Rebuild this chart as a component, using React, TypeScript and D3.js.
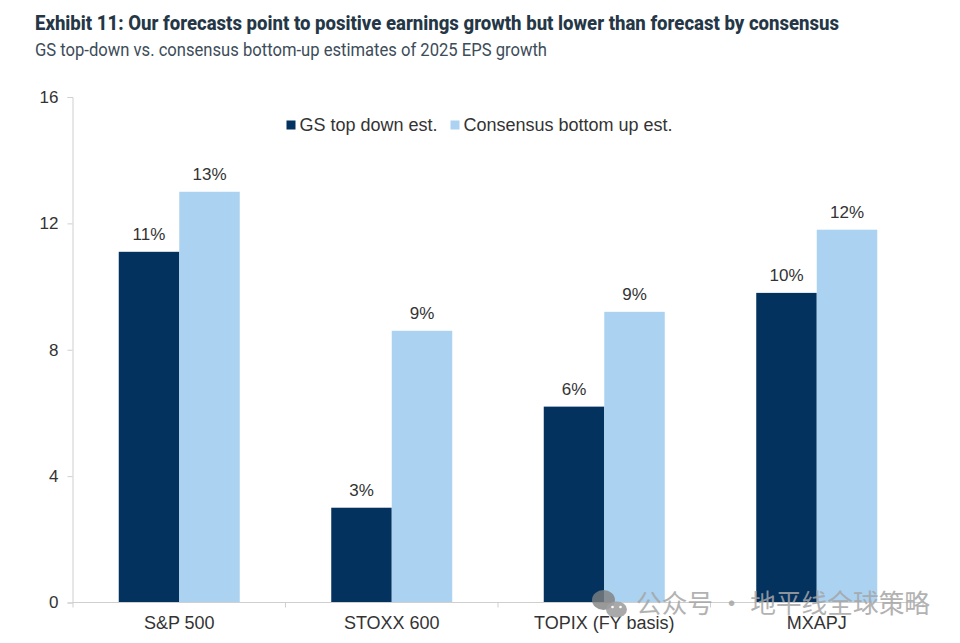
import React, { useEffect, useRef } from 'react';
import * as d3 from 'd3';

const categories = ['S&P 500', 'STOXX 600', 'TOPIX (FY basis)', 'MXAPJ'];
const gsValues = [11.1, 3.0, 6.2, 9.8];
const consensusValues = [13.0, 8.6, 9.2, 11.8];
const gsLabels = ['11%', '3%', '6%', '10%'];
const consensusLabels = ['13%', '9%', '9%', '12%'];
const yTicks = [0, 4, 8, 12, 16];
const seriesNames = ['GS top down est.', 'Consensus bottom up est.'];
const seriesColors = ['#03325f', '#abd2f0'];

const titleText = 'Exhibit 11: Our forecasts point to positive earnings growth but lower than forecast by consensus';
const subtitleText = 'GS top-down vs. consensus bottom-up estimates of 2025 EPS growth';
const watermarkText = '公众号 · 地平线全球策略';

const App: React.FC = () => {
  const svgRef = useRef<SVGSVGElement>(null);

  useEffect(() => {
    if (!svgRef.current) return;
    const svg = d3.select(svgRef.current);
    svg.selectAll('*').remove();

    const font = 'Liberation Sans, Arial, sans-serif';
    const x = d3.scaleBand<string>().domain(categories).range([73, 923]);
    const y = d3.scaleLinear().domain([0, 16]).range([602.5, 97]);
    const barW = 60.5;

    // Heading
    svg.append('text')
      .attr('x', 35).attr('y', 30)
      .attr('textLength', 804).attr('lengthAdjust', 'spacingAndGlyphs')
      .attr('font-family', 'Roboto, sans-serif').attr('font-weight', 800)
      .attr('font-size', 20).attr('fill', '#253746')
      .text(titleText);
    svg.append('text')
      .attr('x', 35).attr('y', 56)
      .attr('textLength', 512).attr('lengthAdjust', 'spacingAndGlyphs')
      .attr('font-family', 'Roboto, sans-serif')
      .attr('font-size', 18).attr('fill', '#3d4c59')
      .text(subtitleText);

    // Bars
    const series = [gsValues, consensusValues];
    const seriesLabels = [gsLabels, consensusLabels];
    series.forEach((values, s) => {
      const bx = (c: string) => x(c)! + x.bandwidth() / 2 + (s - 1) * barW;
      svg.append('g').selectAll('rect').data(categories).join('rect')
        .attr('x', d => bx(d))
        .attr('y', (_, i) => y(values[i]))
        .attr('width', barW)
        .attr('height', (_, i) => y(0) - y(values[i]))
        .attr('fill', seriesColors[s]);
      svg.append('g').selectAll('text').data(categories).join('text')
        .attr('x', d => bx(d) + barW / 2)
        .attr('y', (_, i) => y(values[i]) - 12)
        .attr('text-anchor', 'middle')
        .attr('font-family', font).attr('font-size', 17).attr('fill', '#333')
        .text((_, i) => seriesLabels[s][i]);
    });

    // Axes
    const axisColor = '#cfcfcf';
    const yAxis = svg.append('g').attr('transform', 'translate(72.5,0)')
      .call(d3.axisLeft(y).tickValues(yTicks).tickSize(5).tickPadding(9).tickFormat(d3.format('d') as any));
    yAxis.selectAll('.domain, line').attr('stroke', axisColor);
    yAxis.selectAll('text').attr('font-family', font).attr('font-size', 17).attr('fill', '#333');

    const xAxis = svg.append('g').attr('transform', 'translate(0,602.5)');
    xAxis.append('line').attr('x1', 72.5).attr('x2', 923).attr('stroke', axisColor);
    const edges = [...categories.map(c => x(c)!), 923];
    xAxis.selectAll('line.tick').data(edges).join('line').attr('class', 'tick')
      .attr('x1', d => d).attr('x2', d => d).attr('y1', 0).attr('y2', 5).attr('stroke', axisColor);
    xAxis.selectAll('text').data(categories).join('text')
      .attr('x', d => x(d)! + x.bandwidth() / 2)
      .attr('y', 26)
      .attr('text-anchor', 'middle')
      .attr('font-family', font).attr('font-size', 18).attr('fill', '#333')
      .text(d => d);

    // Legend
    const legend = svg.append('g').attr('font-family', font).attr('font-size', 18).attr('fill', '#333');
    [286.5, 450.5].forEach((lx, i) => {
      legend.append('rect').attr('x', lx).attr('y', 120.5).attr('width', 9).attr('height', 9).attr('fill', seriesColors[i]);
      legend.append('text').attr('x', lx + 13).attr('y', 131).text(seriesNames[i]);
    });

    // Watermark
    const wm = svg.append('g');
    wm.append('ellipse').attr('cx', 603.5).attr('cy', 600).attr('rx', 11.5).attr('ry', 10).attr('fill', '#808080').attr('opacity', 0.8);
    wm.append('ellipse').attr('cx', 616.5).attr('cy', 609.5).attr('rx', 10.5).attr('ry', 8).attr('fill', '#a0a0a0').attr('opacity', 0.9);
    [612.5, 620.5].forEach(cx => wm.append('circle').attr('cx', cx).attr('cy', 607).attr('r', 1.3).attr('fill', '#fff'));
    wm.append('text').attr('x', 636).attr('y', 613)
      .attr('textLength', 294).attr('lengthAdjust', 'spacingAndGlyphs')
      .attr('font-family', 'Noto Sans CJK SC').attr('font-size', 26).attr('fill', '#a5a5a5').attr('opacity', 0.85)
      .text(watermarkText);
  }, []);

  return <svg ref={svgRef} width={960} height={643} style={{ position: 'absolute', left: 0, top: 0, background: '#fff' }} />;
};

export default App;
